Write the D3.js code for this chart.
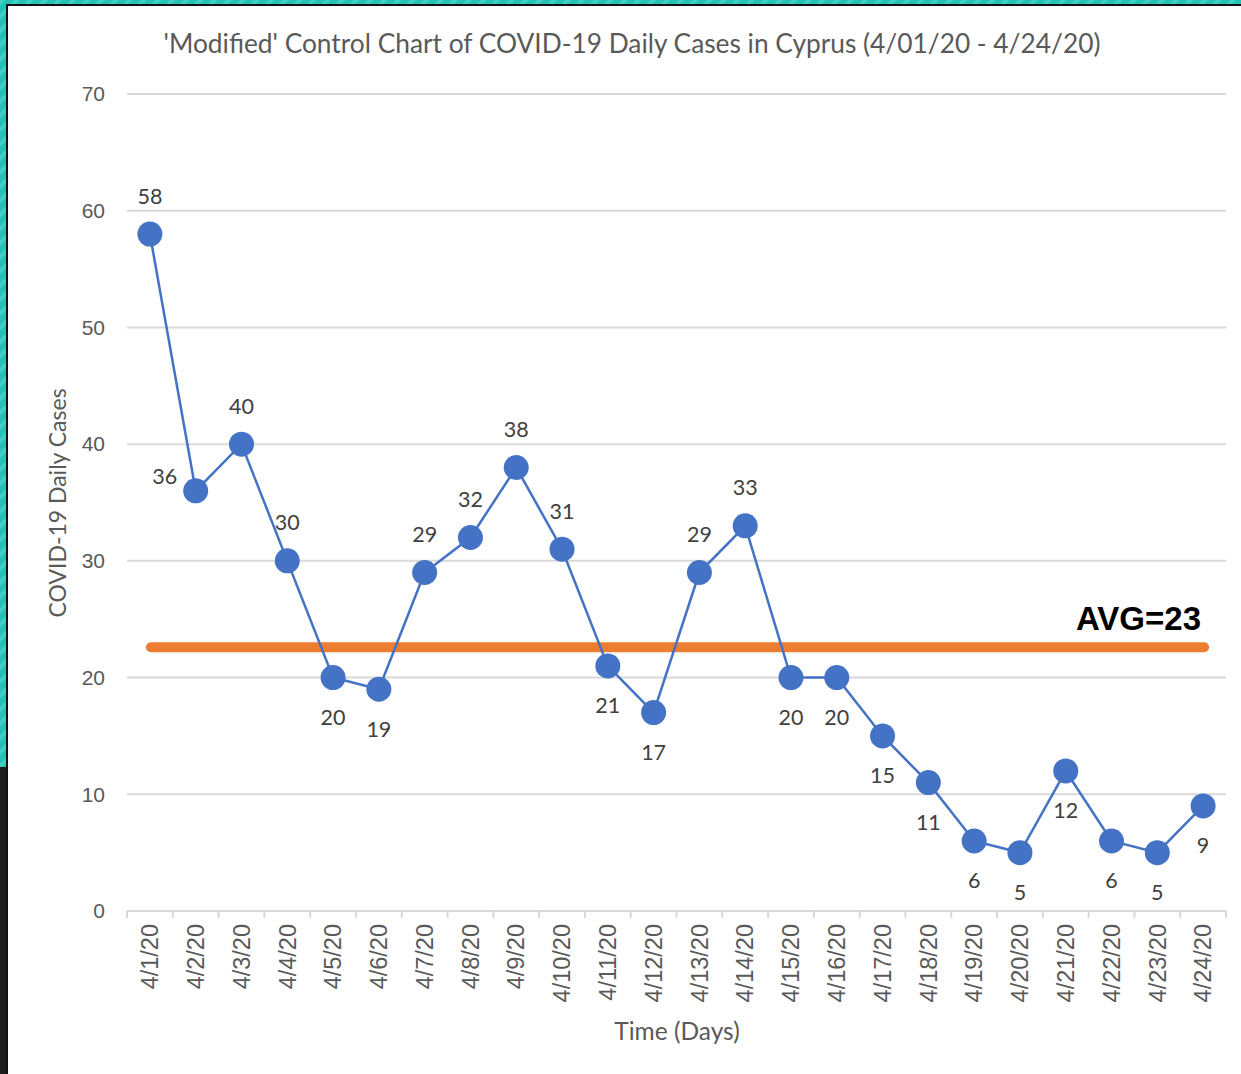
<!DOCTYPE html>
<html>
<head>
<meta charset="utf-8">
<script src="https://cdn.jsdelivr.net/npm/d3@7"></script>
<style>
  body { margin: 0; background: #fff; }
  svg { display: block; font-family: Lato, "Noto Sans", sans-serif; }
  .axis text { fill: #595959; font-size: 21px; }
  .axis path, .axis line { stroke: #d9d9d9; stroke-width: 2; }
</style>
</head>
<body>
<svg></svg>
<script>
const days = ["4/1/20", "4/2/20", "4/3/20", "4/4/20", "4/5/20", "4/6/20", "4/7/20", "4/8/20",
  "4/9/20", "4/10/20", "4/11/20", "4/12/20", "4/13/20", "4/14/20", "4/15/20", "4/16/20",
  "4/17/20", "4/18/20", "4/19/20", "4/20/20", "4/21/20", "4/22/20", "4/23/20", "4/24/20"];
const cases = [58, 36, 40, 30, 20, 19, 29, 32, 38, 31, 21, 17, 29, 33, 20, 20, 15, 11, 6, 5, 12, 6, 5, 9];
// where each data label sits: a = above, b = below, l = left
const labelPos = ["a", "l", "a", "a", "b", "b", "a", "a", "a", "a", "b", "b",
  "a", "a", "b", "b", "b", "b", "b", "b", "b", "b", "b", "b"];
const yTicks = [0, 10, 20, 30, 40, 50, 60, 70];
const avg = 22.6;
const avgLabel = "AVG=23";

const W = 1241, H = 1074;
const svg = d3.select("svg").attr("width", W).attr("height", H);

// frame: teal striped edges, black inner line, dark lower left
const defs = svg.append("defs");
const pat = defs.append("pattern").attr("id", "stripes")
  .attr("patternUnits", "userSpaceOnUse").attr("width", 10).attr("height", 10)
  .attr("patternTransform", "rotate(45)");
pat.append("rect").attr("width", 10).attr("height", 10).attr("fill", "#22c3b4");
pat.append("rect").attr("width", 4).attr("height", 10).attr("fill", "#3fd0c2");

svg.append("rect").attr("width", W).attr("height", H).attr("fill", "#fff");
svg.append("rect").attr("x", 0).attr("y", 0).attr("width", W).attr("height", 4).attr("fill", "url(#stripes)");
svg.append("rect").attr("x", 0).attr("y", 0).attr("width", 6).attr("height", 767).attr("fill", "url(#stripes)");
svg.append("rect").attr("x", 0).attr("y", 767).attr("width", 7).attr("height", H - 767).attr("fill", "#1e1e1e");
svg.append("rect").attr("x", 6).attr("y", 4).attr("width", W - 6).attr("height", 2).attr("fill", "#111");
svg.append("rect").attr("x", 6).attr("y", 4).attr("width", 2).attr("height", H - 4).attr("fill", "#111");

const margin = { top: 94, left: 127, right: 15, bottom: 163 };
const iw = W - margin.left - margin.right, ih = H - margin.top - margin.bottom;
const g = svg.append("g").attr("transform", `translate(${margin.left},${margin.top})`);

const x = d3.scaleBand().domain(days).range([0, iw]);
const y = d3.scaleLinear().domain([0, 70]).range([ih, 0]);
const cx = d => x(d) + x.bandwidth() / 2;

// gridlines
g.append("g").selectAll("line").data(yTicks.filter(t => t > 0)).join("line")
  .attr("x1", 0).attr("x2", iw)
  .attr("y1", d => y(d)).attr("y2", d => y(d))
  .attr("stroke", "#d9d9d9").attr("stroke-width", 2);

// y axis labels
const yAxis = g.append("g").attr("class", "axis")
  .call(d3.axisLeft(y).tickValues(yTicks).tickSize(0).tickPadding(22));
yAxis.select(".domain").remove();

// x axis with ticks between categories
const xAxis = g.append("g").attr("class", "axis").attr("transform", `translate(0,${ih})`)
  .call(d3.axisBottom(x).tickSize(0).tickPadding(12));
xAxis.select(".domain").attr("d", `M0,0H${iw}`);
xAxis.selectAll(".tick text")
  .attr("transform", "rotate(-90)")
  .attr("text-anchor", "end")
  .style("font-size", "23.5px")
  .attr("x", -13).attr("y", 0).attr("dy", "0.35em");
g.append("g").selectAll("line").data(d3.range(days.length + 1)).join("line")
  .attr("x1", i => i * x.bandwidth()).attr("x2", i => i * x.bandwidth())
  .attr("y1", ih).attr("y2", ih + 7)
  .attr("stroke", "#d9d9d9").attr("stroke-width", 2);

// average line
g.append("line")
  .attr("x1", cx(days[0]) + 1).attr("x2", cx(days[days.length - 1]) + 1)
  .attr("y1", y(avg)).attr("y2", y(avg))
  .attr("stroke", "#ed7d31").attr("stroke-width", 10).attr("stroke-linecap", "round");
g.append("text")
  .attr("x", iw - 25).attr("y", y(avg) - 29).attr("dy", "0.35em")
  .attr("text-anchor", "end")
  .attr("font-family", "Liberation Sans, Arial, sans-serif")
  .attr("font-weight", "bold").attr("font-size", 33).attr("fill", "#000")
  .text(avgLabel);

// series
const line = d3.line().x((d, i) => cx(days[i])).y(d => y(d));
g.append("path").datum(cases)
  .attr("d", line).attr("fill", "none")
  .attr("stroke", "#4472c4").attr("stroke-width", 2.5);
g.append("g").selectAll("circle").data(cases).join("circle")
  .attr("cx", (d, i) => cx(days[i])).attr("cy", d => y(d))
  .attr("r", 12.5).attr("fill", "#4472c4");

g.append("g").selectAll("text").data(cases).join("text")
  .attr("x", (d, i) => cx(days[i]) + (labelPos[i] === "l" ? -31 : 0))
  .attr("y", (d, i) => y(d) + (labelPos[i] === "a" ? -38 : labelPos[i] === "b" ? 40 : -14))
  .attr("dy", "0.35em")
  .attr("text-anchor", "middle")
  .attr("font-size", 21.5).attr("fill", "#404040")
  .text(d => d);

// titles
svg.append("text").attr("x", 632).attr("y", 44).attr("dy", "0.35em")
  .attr("text-anchor", "middle").attr("font-size", 26.3).attr("fill", "#595959")
  .text("'Modified' Control Chart of COVID-19 Daily Cases in Cyprus (4/01/20 - 4/24/20)");
svg.append("text").attr("x", 677).attr("y", 1031).attr("dy", "0.35em")
  .attr("text-anchor", "middle").attr("font-size", 24.5).attr("fill", "#595959")
  .text("Time (Days)");
svg.append("text").attr("transform", "translate(58,503) rotate(-90)").attr("dy", "0.35em")
  .attr("text-anchor", "middle").attr("font-size", 23).attr("fill", "#595959")
  .text("COVID-19 Daily Cases");
</script>
</body>
</html>
